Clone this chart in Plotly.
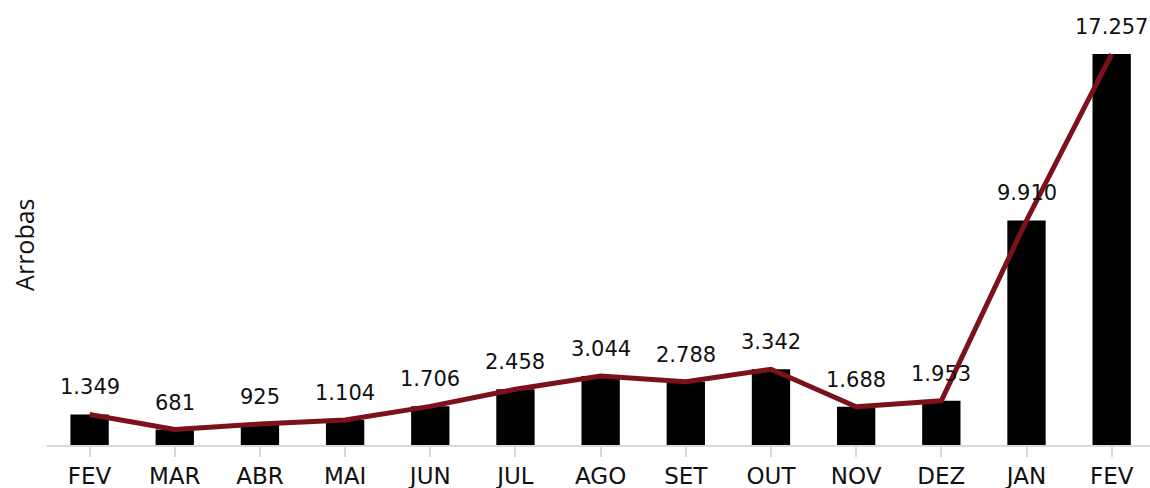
import plotly.graph_objects as go

categories = ["FEV", "MAR", "ABR", "MAI", "JUN", "JUL", "AGO", "SET", "OUT", "NOV", "DEZ", "JAN", "FEV "]
tick_labels = ["FEV", "MAR", "ABR", "MAI", "JUN", "JUL", "AGO", "SET", "OUT", "NOV", "DEZ", "JAN", "FEV"]
values = [1349, 681, 925, 1104, 1706, 2458, 3044, 2788, 3342, 1688, 1953, 9910, 17257]

def fmt(v):
    return f"{v:,}".replace(",", ".")

x_idx = list(range(len(categories)))

fig = go.Figure()
fig.add_trace(go.Bar(x=x_idx, y=values, width=0.45, marker=dict(color="#000000", line=dict(width=0)),
                     hoverinfo="skip", showlegend=False))
fig.add_trace(go.Scatter(x=x_idx, y=values, mode="lines", line=dict(color="#7c111c", width=5),
                         hoverinfo="skip", showlegend=False))

for i, v in zip(x_idx, values):
    fig.add_annotation(x=i, y=v, xref="x", yref="y", text=fmt(v), showarrow=False,
                       yanchor="bottom", yshift=13,
                       font=dict(family="DejaVu Sans", size=21, color="#111111"))

fig.add_annotation(text="Arrobas", xref="paper", yref="paper", x=-23/1103, y=0.46,
                   textangle=-90, showarrow=False, xanchor="center", yanchor="middle",
                   font=dict(family="Open Sans, Liberation Sans", size=25, color="#111111"))

fig.update_layout(
    width=1150, height=488,
    margin=dict(l=47, r=0, t=10, b=43),
    paper_bgcolor="white", plot_bgcolor="white",
    xaxis=dict(tickmode="array", tickvals=x_idx, ticktext=tick_labels, range=[-0.5, 12.45],
               showgrid=False, zeroline=False, showline=True, linecolor="#d9d9d9", linewidth=1.5,
               ticks="outside", ticklen=10, tickcolor="#d9d9d9", tickwidth=1.5, tickson="boundaries",
               tickfont=dict(family="DejaVu Sans", size=23, color="#111111")),
    yaxis=dict(range=[0, 19200], showgrid=False, zeroline=False, showticklabels=False, showline=False),
    bargap=0.55,
)
fig.write_html("out.html", config={"displayModeBar": False},
               post_script="document.body.style.margin='0';document.body.style.padding='0';")
